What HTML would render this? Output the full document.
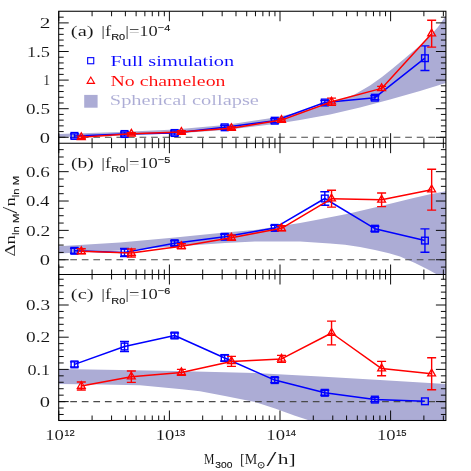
<!DOCTYPE html>
<html><head><meta charset="utf-8"><title>Mass function enhancement</title>
<style>html,body{margin:0;padding:0;background:#fff;}svg{display:block;}</style></head>
<body><svg width="471" height="471" viewBox="0 0 471 471">
<rect width="471" height="471" fill="#fff"/>
<defs>
<clipPath id="cpa"><rect x="58.7" y="11.25" width="387.2" height="131.95"/></clipPath>
<clipPath id="cpb"><rect x="58.7" y="143.2" width="387.2" height="131.3"/></clipPath>
<clipPath id="cpc"><rect x="58.7" y="274.5" width="387.2" height="146.0"/></clipPath>
</defs>
<polygon clip-path="url(#cpa)" fill="#acacd5" points="58.7,133.9 120.0,132.0 175.0,129.6 225.0,125.0 275.0,117.5 300.0,112.0 330.0,103.0 345.0,98.3 355.0,94.3 370.0,85.5 382.0,77.0 392.0,69.0 404.0,59.0 414.0,50.5 422.0,44.0 430.0,36.0 438.0,27.0 445.9,15.8 445.9,83.0 420.0,91.0 390.0,99.5 360.0,107.5 330.0,114.5 300.0,120.0 275.0,124.0 225.0,130.0 175.0,133.6 120.0,135.6 58.7,137.0"/>
<polygon clip-path="url(#cpb)" fill="#acacd5" points="58.7,246.2 120.0,242.5 175.0,237.5 225.0,232.5 255.0,230.0 300.0,223.0 316.0,220.0 348.0,213.8 380.0,206.3 411.5,198.5 430.0,194.3 445.9,191.3 445.9,274.5 437.0,274.5 428.0,269.5 415.0,263.1 400.0,256.4 389.0,253.2 375.0,250.0 360.0,247.0 345.0,244.8 330.0,243.5 300.0,241.6 255.0,241.5 225.0,243.0 175.0,246.5 120.0,250.5 58.7,253.4"/>
<polygon clip-path="url(#cpc)" fill="#acacd5" points="58.7,369.1 120.0,369.9 175.0,370.9 255.0,373.0 320.0,376.4 380.0,380.1 445.9,383.9 445.9,420.5 309.5,420.5 295.0,415.8 275.0,408.5 255.0,402.0 225.0,396.0 200.0,391.3 182.0,389.2 140.0,385.2 100.0,384.4 58.7,383.9"/>
<line x1="58.70" y1="137.30" x2="445.90" y2="137.30" stroke="#4a4a4a" stroke-width="1.05" stroke-dasharray="6.7 4.85"/>
<line x1="58.70" y1="259.75" x2="445.90" y2="259.75" stroke="#4a4a4a" stroke-width="1.05" stroke-dasharray="6.7 4.85"/>
<line x1="58.70" y1="401.60" x2="445.90" y2="401.60" stroke="#4a4a4a" stroke-width="1.05" stroke-dasharray="6.7 4.85"/>
<line x1="58.80" y1="11.25" x2="58.80" y2="21.25" stroke="#000" stroke-width="0.95" />
<line x1="92.09" y1="11.25" x2="92.09" y2="16.25" stroke="#000" stroke-width="0.95" />
<line x1="111.57" y1="11.25" x2="111.57" y2="16.25" stroke="#000" stroke-width="0.95" />
<line x1="125.39" y1="11.25" x2="125.39" y2="16.25" stroke="#000" stroke-width="0.95" />
<line x1="136.11" y1="11.25" x2="136.11" y2="16.25" stroke="#000" stroke-width="0.95" />
<line x1="144.86" y1="11.25" x2="144.86" y2="16.25" stroke="#000" stroke-width="0.95" />
<line x1="152.27" y1="11.25" x2="152.27" y2="16.25" stroke="#000" stroke-width="0.95" />
<line x1="158.68" y1="11.25" x2="158.68" y2="16.25" stroke="#000" stroke-width="0.95" />
<line x1="164.34" y1="11.25" x2="164.34" y2="16.25" stroke="#000" stroke-width="0.95" />
<line x1="169.40" y1="11.25" x2="169.40" y2="21.25" stroke="#000" stroke-width="0.95" />
<line x1="202.69" y1="11.25" x2="202.69" y2="16.25" stroke="#000" stroke-width="0.95" />
<line x1="222.17" y1="11.25" x2="222.17" y2="16.25" stroke="#000" stroke-width="0.95" />
<line x1="235.99" y1="11.25" x2="235.99" y2="16.25" stroke="#000" stroke-width="0.95" />
<line x1="246.71" y1="11.25" x2="246.71" y2="16.25" stroke="#000" stroke-width="0.95" />
<line x1="255.46" y1="11.25" x2="255.46" y2="16.25" stroke="#000" stroke-width="0.95" />
<line x1="262.87" y1="11.25" x2="262.87" y2="16.25" stroke="#000" stroke-width="0.95" />
<line x1="269.28" y1="11.25" x2="269.28" y2="16.25" stroke="#000" stroke-width="0.95" />
<line x1="274.94" y1="11.25" x2="274.94" y2="16.25" stroke="#000" stroke-width="0.95" />
<line x1="280.00" y1="11.25" x2="280.00" y2="21.25" stroke="#000" stroke-width="0.95" />
<line x1="313.29" y1="11.25" x2="313.29" y2="16.25" stroke="#000" stroke-width="0.95" />
<line x1="332.77" y1="11.25" x2="332.77" y2="16.25" stroke="#000" stroke-width="0.95" />
<line x1="346.59" y1="11.25" x2="346.59" y2="16.25" stroke="#000" stroke-width="0.95" />
<line x1="357.31" y1="11.25" x2="357.31" y2="16.25" stroke="#000" stroke-width="0.95" />
<line x1="366.06" y1="11.25" x2="366.06" y2="16.25" stroke="#000" stroke-width="0.95" />
<line x1="373.47" y1="11.25" x2="373.47" y2="16.25" stroke="#000" stroke-width="0.95" />
<line x1="379.88" y1="11.25" x2="379.88" y2="16.25" stroke="#000" stroke-width="0.95" />
<line x1="385.54" y1="11.25" x2="385.54" y2="16.25" stroke="#000" stroke-width="0.95" />
<line x1="390.60" y1="11.25" x2="390.60" y2="21.25" stroke="#000" stroke-width="0.95" />
<line x1="423.89" y1="11.25" x2="423.89" y2="16.25" stroke="#000" stroke-width="0.95" />
<line x1="443.37" y1="11.25" x2="443.37" y2="16.25" stroke="#000" stroke-width="0.95" />
<line x1="58.80" y1="133.20" x2="58.80" y2="153.20" stroke="#000" stroke-width="0.95" />
<line x1="92.09" y1="138.20" x2="92.09" y2="148.20" stroke="#000" stroke-width="0.95" />
<line x1="111.57" y1="138.20" x2="111.57" y2="148.20" stroke="#000" stroke-width="0.95" />
<line x1="125.39" y1="138.20" x2="125.39" y2="148.20" stroke="#000" stroke-width="0.95" />
<line x1="136.11" y1="138.20" x2="136.11" y2="148.20" stroke="#000" stroke-width="0.95" />
<line x1="144.86" y1="138.20" x2="144.86" y2="148.20" stroke="#000" stroke-width="0.95" />
<line x1="152.27" y1="138.20" x2="152.27" y2="148.20" stroke="#000" stroke-width="0.95" />
<line x1="158.68" y1="138.20" x2="158.68" y2="148.20" stroke="#000" stroke-width="0.95" />
<line x1="164.34" y1="138.20" x2="164.34" y2="148.20" stroke="#000" stroke-width="0.95" />
<line x1="169.40" y1="133.20" x2="169.40" y2="153.20" stroke="#000" stroke-width="0.95" />
<line x1="202.69" y1="138.20" x2="202.69" y2="148.20" stroke="#000" stroke-width="0.95" />
<line x1="222.17" y1="138.20" x2="222.17" y2="148.20" stroke="#000" stroke-width="0.95" />
<line x1="235.99" y1="138.20" x2="235.99" y2="148.20" stroke="#000" stroke-width="0.95" />
<line x1="246.71" y1="138.20" x2="246.71" y2="148.20" stroke="#000" stroke-width="0.95" />
<line x1="255.46" y1="138.20" x2="255.46" y2="148.20" stroke="#000" stroke-width="0.95" />
<line x1="262.87" y1="138.20" x2="262.87" y2="148.20" stroke="#000" stroke-width="0.95" />
<line x1="269.28" y1="138.20" x2="269.28" y2="148.20" stroke="#000" stroke-width="0.95" />
<line x1="274.94" y1="138.20" x2="274.94" y2="148.20" stroke="#000" stroke-width="0.95" />
<line x1="280.00" y1="133.20" x2="280.00" y2="153.20" stroke="#000" stroke-width="0.95" />
<line x1="313.29" y1="138.20" x2="313.29" y2="148.20" stroke="#000" stroke-width="0.95" />
<line x1="332.77" y1="138.20" x2="332.77" y2="148.20" stroke="#000" stroke-width="0.95" />
<line x1="346.59" y1="138.20" x2="346.59" y2="148.20" stroke="#000" stroke-width="0.95" />
<line x1="357.31" y1="138.20" x2="357.31" y2="148.20" stroke="#000" stroke-width="0.95" />
<line x1="366.06" y1="138.20" x2="366.06" y2="148.20" stroke="#000" stroke-width="0.95" />
<line x1="373.47" y1="138.20" x2="373.47" y2="148.20" stroke="#000" stroke-width="0.95" />
<line x1="379.88" y1="138.20" x2="379.88" y2="148.20" stroke="#000" stroke-width="0.95" />
<line x1="385.54" y1="138.20" x2="385.54" y2="148.20" stroke="#000" stroke-width="0.95" />
<line x1="390.60" y1="133.20" x2="390.60" y2="153.20" stroke="#000" stroke-width="0.95" />
<line x1="423.89" y1="138.20" x2="423.89" y2="148.20" stroke="#000" stroke-width="0.95" />
<line x1="443.37" y1="138.20" x2="443.37" y2="148.20" stroke="#000" stroke-width="0.95" />
<line x1="58.80" y1="264.50" x2="58.80" y2="284.50" stroke="#000" stroke-width="0.95" />
<line x1="92.09" y1="269.50" x2="92.09" y2="279.50" stroke="#000" stroke-width="0.95" />
<line x1="111.57" y1="269.50" x2="111.57" y2="279.50" stroke="#000" stroke-width="0.95" />
<line x1="125.39" y1="269.50" x2="125.39" y2="279.50" stroke="#000" stroke-width="0.95" />
<line x1="136.11" y1="269.50" x2="136.11" y2="279.50" stroke="#000" stroke-width="0.95" />
<line x1="144.86" y1="269.50" x2="144.86" y2="279.50" stroke="#000" stroke-width="0.95" />
<line x1="152.27" y1="269.50" x2="152.27" y2="279.50" stroke="#000" stroke-width="0.95" />
<line x1="158.68" y1="269.50" x2="158.68" y2="279.50" stroke="#000" stroke-width="0.95" />
<line x1="164.34" y1="269.50" x2="164.34" y2="279.50" stroke="#000" stroke-width="0.95" />
<line x1="169.40" y1="264.50" x2="169.40" y2="284.50" stroke="#000" stroke-width="0.95" />
<line x1="202.69" y1="269.50" x2="202.69" y2="279.50" stroke="#000" stroke-width="0.95" />
<line x1="222.17" y1="269.50" x2="222.17" y2="279.50" stroke="#000" stroke-width="0.95" />
<line x1="235.99" y1="269.50" x2="235.99" y2="279.50" stroke="#000" stroke-width="0.95" />
<line x1="246.71" y1="269.50" x2="246.71" y2="279.50" stroke="#000" stroke-width="0.95" />
<line x1="255.46" y1="269.50" x2="255.46" y2="279.50" stroke="#000" stroke-width="0.95" />
<line x1="262.87" y1="269.50" x2="262.87" y2="279.50" stroke="#000" stroke-width="0.95" />
<line x1="269.28" y1="269.50" x2="269.28" y2="279.50" stroke="#000" stroke-width="0.95" />
<line x1="274.94" y1="269.50" x2="274.94" y2="279.50" stroke="#000" stroke-width="0.95" />
<line x1="280.00" y1="264.50" x2="280.00" y2="284.50" stroke="#000" stroke-width="0.95" />
<line x1="313.29" y1="269.50" x2="313.29" y2="279.50" stroke="#000" stroke-width="0.95" />
<line x1="332.77" y1="269.50" x2="332.77" y2="279.50" stroke="#000" stroke-width="0.95" />
<line x1="346.59" y1="269.50" x2="346.59" y2="279.50" stroke="#000" stroke-width="0.95" />
<line x1="357.31" y1="269.50" x2="357.31" y2="279.50" stroke="#000" stroke-width="0.95" />
<line x1="366.06" y1="269.50" x2="366.06" y2="279.50" stroke="#000" stroke-width="0.95" />
<line x1="373.47" y1="269.50" x2="373.47" y2="279.50" stroke="#000" stroke-width="0.95" />
<line x1="379.88" y1="269.50" x2="379.88" y2="279.50" stroke="#000" stroke-width="0.95" />
<line x1="385.54" y1="269.50" x2="385.54" y2="279.50" stroke="#000" stroke-width="0.95" />
<line x1="390.60" y1="264.50" x2="390.60" y2="284.50" stroke="#000" stroke-width="0.95" />
<line x1="423.89" y1="269.50" x2="423.89" y2="279.50" stroke="#000" stroke-width="0.95" />
<line x1="443.37" y1="269.50" x2="443.37" y2="279.50" stroke="#000" stroke-width="0.95" />
<line x1="58.80" y1="410.50" x2="58.80" y2="420.50" stroke="#000" stroke-width="0.95" />
<line x1="92.09" y1="415.50" x2="92.09" y2="420.50" stroke="#000" stroke-width="0.95" />
<line x1="111.57" y1="415.50" x2="111.57" y2="420.50" stroke="#000" stroke-width="0.95" />
<line x1="125.39" y1="415.50" x2="125.39" y2="420.50" stroke="#000" stroke-width="0.95" />
<line x1="136.11" y1="415.50" x2="136.11" y2="420.50" stroke="#000" stroke-width="0.95" />
<line x1="144.86" y1="415.50" x2="144.86" y2="420.50" stroke="#000" stroke-width="0.95" />
<line x1="152.27" y1="415.50" x2="152.27" y2="420.50" stroke="#000" stroke-width="0.95" />
<line x1="158.68" y1="415.50" x2="158.68" y2="420.50" stroke="#000" stroke-width="0.95" />
<line x1="164.34" y1="415.50" x2="164.34" y2="420.50" stroke="#000" stroke-width="0.95" />
<line x1="169.40" y1="410.50" x2="169.40" y2="420.50" stroke="#000" stroke-width="0.95" />
<line x1="202.69" y1="415.50" x2="202.69" y2="420.50" stroke="#000" stroke-width="0.95" />
<line x1="222.17" y1="415.50" x2="222.17" y2="420.50" stroke="#000" stroke-width="0.95" />
<line x1="235.99" y1="415.50" x2="235.99" y2="420.50" stroke="#000" stroke-width="0.95" />
<line x1="246.71" y1="415.50" x2="246.71" y2="420.50" stroke="#000" stroke-width="0.95" />
<line x1="255.46" y1="415.50" x2="255.46" y2="420.50" stroke="#000" stroke-width="0.95" />
<line x1="262.87" y1="415.50" x2="262.87" y2="420.50" stroke="#000" stroke-width="0.95" />
<line x1="269.28" y1="415.50" x2="269.28" y2="420.50" stroke="#000" stroke-width="0.95" />
<line x1="274.94" y1="415.50" x2="274.94" y2="420.50" stroke="#000" stroke-width="0.95" />
<line x1="280.00" y1="410.50" x2="280.00" y2="420.50" stroke="#000" stroke-width="0.95" />
<line x1="313.29" y1="415.50" x2="313.29" y2="420.50" stroke="#000" stroke-width="0.95" />
<line x1="332.77" y1="415.50" x2="332.77" y2="420.50" stroke="#000" stroke-width="0.95" />
<line x1="346.59" y1="415.50" x2="346.59" y2="420.50" stroke="#000" stroke-width="0.95" />
<line x1="357.31" y1="415.50" x2="357.31" y2="420.50" stroke="#000" stroke-width="0.95" />
<line x1="366.06" y1="415.50" x2="366.06" y2="420.50" stroke="#000" stroke-width="0.95" />
<line x1="373.47" y1="415.50" x2="373.47" y2="420.50" stroke="#000" stroke-width="0.95" />
<line x1="379.88" y1="415.50" x2="379.88" y2="420.50" stroke="#000" stroke-width="0.95" />
<line x1="385.54" y1="415.50" x2="385.54" y2="420.50" stroke="#000" stroke-width="0.95" />
<line x1="390.60" y1="410.50" x2="390.60" y2="420.50" stroke="#000" stroke-width="0.95" />
<line x1="423.89" y1="415.50" x2="423.89" y2="420.50" stroke="#000" stroke-width="0.95" />
<line x1="443.37" y1="415.50" x2="443.37" y2="420.50" stroke="#000" stroke-width="0.95" />
<line x1="58.70" y1="137.30" x2="68.70" y2="137.30" stroke="#000" stroke-width="0.95" />
<line x1="435.90" y1="137.30" x2="445.90" y2="137.30" stroke="#000" stroke-width="0.95" />
<line x1="58.70" y1="131.58" x2="63.70" y2="131.58" stroke="#000" stroke-width="0.95" />
<line x1="440.90" y1="131.58" x2="445.90" y2="131.58" stroke="#000" stroke-width="0.95" />
<line x1="58.70" y1="125.86" x2="63.70" y2="125.86" stroke="#000" stroke-width="0.95" />
<line x1="440.90" y1="125.86" x2="445.90" y2="125.86" stroke="#000" stroke-width="0.95" />
<line x1="58.70" y1="120.14" x2="63.70" y2="120.14" stroke="#000" stroke-width="0.95" />
<line x1="440.90" y1="120.14" x2="445.90" y2="120.14" stroke="#000" stroke-width="0.95" />
<line x1="58.70" y1="114.42" x2="63.70" y2="114.42" stroke="#000" stroke-width="0.95" />
<line x1="440.90" y1="114.42" x2="445.90" y2="114.42" stroke="#000" stroke-width="0.95" />
<line x1="58.70" y1="108.70" x2="68.70" y2="108.70" stroke="#000" stroke-width="0.95" />
<line x1="435.90" y1="108.70" x2="445.90" y2="108.70" stroke="#000" stroke-width="0.95" />
<line x1="58.70" y1="102.98" x2="63.70" y2="102.98" stroke="#000" stroke-width="0.95" />
<line x1="440.90" y1="102.98" x2="445.90" y2="102.98" stroke="#000" stroke-width="0.95" />
<line x1="58.70" y1="97.26" x2="63.70" y2="97.26" stroke="#000" stroke-width="0.95" />
<line x1="440.90" y1="97.26" x2="445.90" y2="97.26" stroke="#000" stroke-width="0.95" />
<line x1="58.70" y1="91.54" x2="63.70" y2="91.54" stroke="#000" stroke-width="0.95" />
<line x1="440.90" y1="91.54" x2="445.90" y2="91.54" stroke="#000" stroke-width="0.95" />
<line x1="58.70" y1="85.82" x2="63.70" y2="85.82" stroke="#000" stroke-width="0.95" />
<line x1="440.90" y1="85.82" x2="445.90" y2="85.82" stroke="#000" stroke-width="0.95" />
<line x1="58.70" y1="80.10" x2="68.70" y2="80.10" stroke="#000" stroke-width="0.95" />
<line x1="435.90" y1="80.10" x2="445.90" y2="80.10" stroke="#000" stroke-width="0.95" />
<line x1="58.70" y1="74.38" x2="63.70" y2="74.38" stroke="#000" stroke-width="0.95" />
<line x1="440.90" y1="74.38" x2="445.90" y2="74.38" stroke="#000" stroke-width="0.95" />
<line x1="58.70" y1="68.66" x2="63.70" y2="68.66" stroke="#000" stroke-width="0.95" />
<line x1="440.90" y1="68.66" x2="445.90" y2="68.66" stroke="#000" stroke-width="0.95" />
<line x1="58.70" y1="62.94" x2="63.70" y2="62.94" stroke="#000" stroke-width="0.95" />
<line x1="440.90" y1="62.94" x2="445.90" y2="62.94" stroke="#000" stroke-width="0.95" />
<line x1="58.70" y1="57.22" x2="63.70" y2="57.22" stroke="#000" stroke-width="0.95" />
<line x1="440.90" y1="57.22" x2="445.90" y2="57.22" stroke="#000" stroke-width="0.95" />
<line x1="58.70" y1="51.50" x2="68.70" y2="51.50" stroke="#000" stroke-width="0.95" />
<line x1="435.90" y1="51.50" x2="445.90" y2="51.50" stroke="#000" stroke-width="0.95" />
<line x1="58.70" y1="45.78" x2="63.70" y2="45.78" stroke="#000" stroke-width="0.95" />
<line x1="440.90" y1="45.78" x2="445.90" y2="45.78" stroke="#000" stroke-width="0.95" />
<line x1="58.70" y1="40.06" x2="63.70" y2="40.06" stroke="#000" stroke-width="0.95" />
<line x1="440.90" y1="40.06" x2="445.90" y2="40.06" stroke="#000" stroke-width="0.95" />
<line x1="58.70" y1="34.34" x2="63.70" y2="34.34" stroke="#000" stroke-width="0.95" />
<line x1="440.90" y1="34.34" x2="445.90" y2="34.34" stroke="#000" stroke-width="0.95" />
<line x1="58.70" y1="28.62" x2="63.70" y2="28.62" stroke="#000" stroke-width="0.95" />
<line x1="440.90" y1="28.62" x2="445.90" y2="28.62" stroke="#000" stroke-width="0.95" />
<line x1="58.70" y1="22.90" x2="68.70" y2="22.90" stroke="#000" stroke-width="0.95" />
<line x1="435.90" y1="22.90" x2="445.90" y2="22.90" stroke="#000" stroke-width="0.95" />
<line x1="58.70" y1="17.18" x2="63.70" y2="17.18" stroke="#000" stroke-width="0.95" />
<line x1="440.90" y1="17.18" x2="445.90" y2="17.18" stroke="#000" stroke-width="0.95" />
<line x1="58.70" y1="267.09" x2="63.70" y2="267.09" stroke="#000" stroke-width="0.95" />
<line x1="440.90" y1="267.09" x2="445.90" y2="267.09" stroke="#000" stroke-width="0.95" />
<line x1="58.70" y1="259.75" x2="68.70" y2="259.75" stroke="#000" stroke-width="0.95" />
<line x1="435.90" y1="259.75" x2="445.90" y2="259.75" stroke="#000" stroke-width="0.95" />
<line x1="58.70" y1="252.41" x2="63.70" y2="252.41" stroke="#000" stroke-width="0.95" />
<line x1="440.90" y1="252.41" x2="445.90" y2="252.41" stroke="#000" stroke-width="0.95" />
<line x1="58.70" y1="245.07" x2="63.70" y2="245.07" stroke="#000" stroke-width="0.95" />
<line x1="440.90" y1="245.07" x2="445.90" y2="245.07" stroke="#000" stroke-width="0.95" />
<line x1="58.70" y1="237.73" x2="63.70" y2="237.73" stroke="#000" stroke-width="0.95" />
<line x1="440.90" y1="237.73" x2="445.90" y2="237.73" stroke="#000" stroke-width="0.95" />
<line x1="58.70" y1="230.39" x2="68.70" y2="230.39" stroke="#000" stroke-width="0.95" />
<line x1="435.90" y1="230.39" x2="445.90" y2="230.39" stroke="#000" stroke-width="0.95" />
<line x1="58.70" y1="223.05" x2="63.70" y2="223.05" stroke="#000" stroke-width="0.95" />
<line x1="440.90" y1="223.05" x2="445.90" y2="223.05" stroke="#000" stroke-width="0.95" />
<line x1="58.70" y1="215.71" x2="63.70" y2="215.71" stroke="#000" stroke-width="0.95" />
<line x1="440.90" y1="215.71" x2="445.90" y2="215.71" stroke="#000" stroke-width="0.95" />
<line x1="58.70" y1="208.37" x2="63.70" y2="208.37" stroke="#000" stroke-width="0.95" />
<line x1="440.90" y1="208.37" x2="445.90" y2="208.37" stroke="#000" stroke-width="0.95" />
<line x1="58.70" y1="201.03" x2="68.70" y2="201.03" stroke="#000" stroke-width="0.95" />
<line x1="435.90" y1="201.03" x2="445.90" y2="201.03" stroke="#000" stroke-width="0.95" />
<line x1="58.70" y1="193.69" x2="63.70" y2="193.69" stroke="#000" stroke-width="0.95" />
<line x1="440.90" y1="193.69" x2="445.90" y2="193.69" stroke="#000" stroke-width="0.95" />
<line x1="58.70" y1="186.35" x2="63.70" y2="186.35" stroke="#000" stroke-width="0.95" />
<line x1="440.90" y1="186.35" x2="445.90" y2="186.35" stroke="#000" stroke-width="0.95" />
<line x1="58.70" y1="179.01" x2="63.70" y2="179.01" stroke="#000" stroke-width="0.95" />
<line x1="440.90" y1="179.01" x2="445.90" y2="179.01" stroke="#000" stroke-width="0.95" />
<line x1="58.70" y1="171.67" x2="68.70" y2="171.67" stroke="#000" stroke-width="0.95" />
<line x1="435.90" y1="171.67" x2="445.90" y2="171.67" stroke="#000" stroke-width="0.95" />
<line x1="58.70" y1="164.33" x2="63.70" y2="164.33" stroke="#000" stroke-width="0.95" />
<line x1="440.90" y1="164.33" x2="445.90" y2="164.33" stroke="#000" stroke-width="0.95" />
<line x1="58.70" y1="156.99" x2="63.70" y2="156.99" stroke="#000" stroke-width="0.95" />
<line x1="440.90" y1="156.99" x2="445.90" y2="156.99" stroke="#000" stroke-width="0.95" />
<line x1="58.70" y1="149.65" x2="63.70" y2="149.65" stroke="#000" stroke-width="0.95" />
<line x1="440.90" y1="149.65" x2="445.90" y2="149.65" stroke="#000" stroke-width="0.95" />
<line x1="58.70" y1="414.48" x2="63.70" y2="414.48" stroke="#000" stroke-width="0.95" />
<line x1="440.90" y1="414.48" x2="445.90" y2="414.48" stroke="#000" stroke-width="0.95" />
<line x1="58.70" y1="408.04" x2="63.70" y2="408.04" stroke="#000" stroke-width="0.95" />
<line x1="440.90" y1="408.04" x2="445.90" y2="408.04" stroke="#000" stroke-width="0.95" />
<line x1="58.70" y1="401.60" x2="68.70" y2="401.60" stroke="#000" stroke-width="0.95" />
<line x1="435.90" y1="401.60" x2="445.90" y2="401.60" stroke="#000" stroke-width="0.95" />
<line x1="58.70" y1="395.16" x2="63.70" y2="395.16" stroke="#000" stroke-width="0.95" />
<line x1="440.90" y1="395.16" x2="445.90" y2="395.16" stroke="#000" stroke-width="0.95" />
<line x1="58.70" y1="388.72" x2="63.70" y2="388.72" stroke="#000" stroke-width="0.95" />
<line x1="440.90" y1="388.72" x2="445.90" y2="388.72" stroke="#000" stroke-width="0.95" />
<line x1="58.70" y1="382.28" x2="63.70" y2="382.28" stroke="#000" stroke-width="0.95" />
<line x1="440.90" y1="382.28" x2="445.90" y2="382.28" stroke="#000" stroke-width="0.95" />
<line x1="58.70" y1="375.84" x2="63.70" y2="375.84" stroke="#000" stroke-width="0.95" />
<line x1="440.90" y1="375.84" x2="445.90" y2="375.84" stroke="#000" stroke-width="0.95" />
<line x1="58.70" y1="369.40" x2="68.70" y2="369.40" stroke="#000" stroke-width="0.95" />
<line x1="435.90" y1="369.40" x2="445.90" y2="369.40" stroke="#000" stroke-width="0.95" />
<line x1="58.70" y1="362.96" x2="63.70" y2="362.96" stroke="#000" stroke-width="0.95" />
<line x1="440.90" y1="362.96" x2="445.90" y2="362.96" stroke="#000" stroke-width="0.95" />
<line x1="58.70" y1="356.52" x2="63.70" y2="356.52" stroke="#000" stroke-width="0.95" />
<line x1="440.90" y1="356.52" x2="445.90" y2="356.52" stroke="#000" stroke-width="0.95" />
<line x1="58.70" y1="350.08" x2="63.70" y2="350.08" stroke="#000" stroke-width="0.95" />
<line x1="440.90" y1="350.08" x2="445.90" y2="350.08" stroke="#000" stroke-width="0.95" />
<line x1="58.70" y1="343.64" x2="63.70" y2="343.64" stroke="#000" stroke-width="0.95" />
<line x1="440.90" y1="343.64" x2="445.90" y2="343.64" stroke="#000" stroke-width="0.95" />
<line x1="58.70" y1="337.20" x2="68.70" y2="337.20" stroke="#000" stroke-width="0.95" />
<line x1="435.90" y1="337.20" x2="445.90" y2="337.20" stroke="#000" stroke-width="0.95" />
<line x1="58.70" y1="330.76" x2="63.70" y2="330.76" stroke="#000" stroke-width="0.95" />
<line x1="440.90" y1="330.76" x2="445.90" y2="330.76" stroke="#000" stroke-width="0.95" />
<line x1="58.70" y1="324.32" x2="63.70" y2="324.32" stroke="#000" stroke-width="0.95" />
<line x1="440.90" y1="324.32" x2="445.90" y2="324.32" stroke="#000" stroke-width="0.95" />
<line x1="58.70" y1="317.88" x2="63.70" y2="317.88" stroke="#000" stroke-width="0.95" />
<line x1="440.90" y1="317.88" x2="445.90" y2="317.88" stroke="#000" stroke-width="0.95" />
<line x1="58.70" y1="311.44" x2="63.70" y2="311.44" stroke="#000" stroke-width="0.95" />
<line x1="440.90" y1="311.44" x2="445.90" y2="311.44" stroke="#000" stroke-width="0.95" />
<line x1="58.70" y1="305.00" x2="68.70" y2="305.00" stroke="#000" stroke-width="0.95" />
<line x1="435.90" y1="305.00" x2="445.90" y2="305.00" stroke="#000" stroke-width="0.95" />
<line x1="58.70" y1="298.56" x2="63.70" y2="298.56" stroke="#000" stroke-width="0.95" />
<line x1="440.90" y1="298.56" x2="445.90" y2="298.56" stroke="#000" stroke-width="0.95" />
<line x1="58.70" y1="292.12" x2="63.70" y2="292.12" stroke="#000" stroke-width="0.95" />
<line x1="440.90" y1="292.12" x2="445.90" y2="292.12" stroke="#000" stroke-width="0.95" />
<line x1="58.70" y1="285.68" x2="63.70" y2="285.68" stroke="#000" stroke-width="0.95" />
<line x1="440.90" y1="285.68" x2="445.90" y2="285.68" stroke="#000" stroke-width="0.95" />
<line x1="58.70" y1="279.24" x2="63.70" y2="279.24" stroke="#000" stroke-width="0.95" />
<line x1="440.90" y1="279.24" x2="445.90" y2="279.24" stroke="#000" stroke-width="0.95" />
<rect x="58.7" y="11.25" width="387.2" height="409.25" fill="none" stroke="#000" stroke-width="1.05"/>
<line x1="58.70" y1="143.20" x2="445.90" y2="143.20" stroke="#000" stroke-width="1.05" />
<line x1="58.70" y1="274.50" x2="445.90" y2="274.50" stroke="#000" stroke-width="1.05" />
<g clip-path="url(#cpa)">
<polyline fill="none" stroke="#0000ff" stroke-width="1.5" stroke-linejoin="round" points="74.5,135.9 124.5,134.0 174.6,133.0 224.7,127.3 274.7,120.7 324.8,102.5 374.9,97.7 424.9,58.2"/>
<line x1="74.45" y1="133.90" x2="74.45" y2="137.90" stroke="#0000ff" stroke-width="1.4" />
<line x1="69.95" y1="133.90" x2="78.95" y2="133.90" stroke="#0000ff" stroke-width="1.4" />
<line x1="69.95" y1="137.90" x2="78.95" y2="137.90" stroke="#0000ff" stroke-width="1.4" />
<rect x="71.10" y="132.55" width="6.7" height="6.7" fill="none" stroke="#0000ff" stroke-width="1.4"/>
<line x1="124.52" y1="132.00" x2="124.52" y2="136.00" stroke="#0000ff" stroke-width="1.4" />
<line x1="120.02" y1="132.00" x2="129.02" y2="132.00" stroke="#0000ff" stroke-width="1.4" />
<line x1="120.02" y1="136.00" x2="129.02" y2="136.00" stroke="#0000ff" stroke-width="1.4" />
<rect x="121.17" y="130.65" width="6.7" height="6.7" fill="none" stroke="#0000ff" stroke-width="1.4"/>
<line x1="174.59" y1="131.00" x2="174.59" y2="135.00" stroke="#0000ff" stroke-width="1.4" />
<line x1="170.09" y1="131.00" x2="179.09" y2="131.00" stroke="#0000ff" stroke-width="1.4" />
<line x1="170.09" y1="135.00" x2="179.09" y2="135.00" stroke="#0000ff" stroke-width="1.4" />
<rect x="171.24" y="129.65" width="6.7" height="6.7" fill="none" stroke="#0000ff" stroke-width="1.4"/>
<line x1="224.66" y1="125.30" x2="224.66" y2="129.30" stroke="#0000ff" stroke-width="1.4" />
<line x1="220.16" y1="125.30" x2="229.16" y2="125.30" stroke="#0000ff" stroke-width="1.4" />
<line x1="220.16" y1="129.30" x2="229.16" y2="129.30" stroke="#0000ff" stroke-width="1.4" />
<rect x="221.31" y="123.95" width="6.7" height="6.7" fill="none" stroke="#0000ff" stroke-width="1.4"/>
<line x1="274.73" y1="118.70" x2="274.73" y2="122.70" stroke="#0000ff" stroke-width="1.4" />
<line x1="270.23" y1="118.70" x2="279.23" y2="118.70" stroke="#0000ff" stroke-width="1.4" />
<line x1="270.23" y1="122.70" x2="279.23" y2="122.70" stroke="#0000ff" stroke-width="1.4" />
<rect x="271.38" y="117.35" width="6.7" height="6.7" fill="none" stroke="#0000ff" stroke-width="1.4"/>
<line x1="324.80" y1="100.50" x2="324.80" y2="104.50" stroke="#0000ff" stroke-width="1.4" />
<line x1="320.30" y1="100.50" x2="329.30" y2="100.50" stroke="#0000ff" stroke-width="1.4" />
<line x1="320.30" y1="104.50" x2="329.30" y2="104.50" stroke="#0000ff" stroke-width="1.4" />
<rect x="321.45" y="99.15" width="6.7" height="6.7" fill="none" stroke="#0000ff" stroke-width="1.4"/>
<line x1="374.87" y1="95.70" x2="374.87" y2="99.70" stroke="#0000ff" stroke-width="1.4" />
<line x1="370.37" y1="95.70" x2="379.37" y2="95.70" stroke="#0000ff" stroke-width="1.4" />
<line x1="370.37" y1="99.70" x2="379.37" y2="99.70" stroke="#0000ff" stroke-width="1.4" />
<rect x="371.52" y="94.35" width="6.7" height="6.7" fill="none" stroke="#0000ff" stroke-width="1.4"/>
<line x1="424.94" y1="45.90" x2="424.94" y2="70.50" stroke="#0000ff" stroke-width="1.4" />
<line x1="420.44" y1="45.90" x2="429.44" y2="45.90" stroke="#0000ff" stroke-width="1.4" />
<line x1="420.44" y1="70.50" x2="429.44" y2="70.50" stroke="#0000ff" stroke-width="1.4" />
<rect x="421.59" y="54.85" width="6.7" height="6.7" fill="none" stroke="#0000ff" stroke-width="1.4"/>
<polyline fill="none" stroke="#ff0000" stroke-width="1.5" stroke-linejoin="round" points="81.3,137.3 131.3,133.8 181.4,132.0 231.4,128.2 281.5,120.1 331.6,101.7 381.6,88.4 431.6,33.7"/>
<line x1="81.30" y1="136.10" x2="81.30" y2="138.50" stroke="#ff0000" stroke-width="1.4" />
<line x1="76.80" y1="136.10" x2="85.80" y2="136.10" stroke="#ff0000" stroke-width="1.4" />
<line x1="76.80" y1="138.50" x2="85.80" y2="138.50" stroke="#ff0000" stroke-width="1.4" />
<polygon points="81.30,132.80 77.38,139.55 85.22,139.55" fill="none" stroke="#ff0000" stroke-width="1.3" stroke-linejoin="miter"/>
<line x1="131.35" y1="132.60" x2="131.35" y2="135.00" stroke="#ff0000" stroke-width="1.4" />
<line x1="126.85" y1="132.60" x2="135.85" y2="132.60" stroke="#ff0000" stroke-width="1.4" />
<line x1="126.85" y1="135.00" x2="135.85" y2="135.00" stroke="#ff0000" stroke-width="1.4" />
<polygon points="131.35,129.30 127.43,136.05 135.26,136.05" fill="none" stroke="#ff0000" stroke-width="1.3" stroke-linejoin="miter"/>
<line x1="181.40" y1="130.80" x2="181.40" y2="133.20" stroke="#ff0000" stroke-width="1.4" />
<line x1="176.90" y1="130.80" x2="185.90" y2="130.80" stroke="#ff0000" stroke-width="1.4" />
<line x1="176.90" y1="133.20" x2="185.90" y2="133.20" stroke="#ff0000" stroke-width="1.4" />
<polygon points="181.40,127.50 177.48,134.25 185.31,134.25" fill="none" stroke="#ff0000" stroke-width="1.3" stroke-linejoin="miter"/>
<line x1="231.45" y1="127.00" x2="231.45" y2="129.40" stroke="#ff0000" stroke-width="1.4" />
<line x1="226.95" y1="127.00" x2="235.95" y2="127.00" stroke="#ff0000" stroke-width="1.4" />
<line x1="226.95" y1="129.40" x2="235.95" y2="129.40" stroke="#ff0000" stroke-width="1.4" />
<polygon points="231.45,123.70 227.53,130.45 235.36,130.45" fill="none" stroke="#ff0000" stroke-width="1.3" stroke-linejoin="miter"/>
<line x1="281.50" y1="118.90" x2="281.50" y2="121.30" stroke="#ff0000" stroke-width="1.4" />
<line x1="277.00" y1="118.90" x2="286.00" y2="118.90" stroke="#ff0000" stroke-width="1.4" />
<line x1="277.00" y1="121.30" x2="286.00" y2="121.30" stroke="#ff0000" stroke-width="1.4" />
<polygon points="281.50,115.60 277.58,122.35 285.42,122.35" fill="none" stroke="#ff0000" stroke-width="1.3" stroke-linejoin="miter"/>
<line x1="331.55" y1="98.10" x2="331.55" y2="105.30" stroke="#ff0000" stroke-width="1.4" />
<line x1="327.05" y1="98.10" x2="336.05" y2="98.10" stroke="#ff0000" stroke-width="1.4" />
<line x1="327.05" y1="105.30" x2="336.05" y2="105.30" stroke="#ff0000" stroke-width="1.4" />
<polygon points="331.55,97.20 327.63,103.95 335.47,103.95" fill="none" stroke="#ff0000" stroke-width="1.3" stroke-linejoin="miter"/>
<line x1="381.60" y1="86.40" x2="381.60" y2="90.40" stroke="#ff0000" stroke-width="1.4" />
<line x1="377.10" y1="86.40" x2="386.10" y2="86.40" stroke="#ff0000" stroke-width="1.4" />
<line x1="377.10" y1="90.40" x2="386.10" y2="90.40" stroke="#ff0000" stroke-width="1.4" />
<polygon points="381.60,83.90 377.68,90.65 385.51,90.65" fill="none" stroke="#ff0000" stroke-width="1.3" stroke-linejoin="miter"/>
<line x1="431.65" y1="20.30" x2="431.65" y2="47.10" stroke="#ff0000" stroke-width="1.4" />
<line x1="427.15" y1="20.30" x2="436.15" y2="20.30" stroke="#ff0000" stroke-width="1.4" />
<line x1="427.15" y1="47.10" x2="436.15" y2="47.10" stroke="#ff0000" stroke-width="1.4" />
<polygon points="431.65,29.20 427.73,35.95 435.56,35.95" fill="none" stroke="#ff0000" stroke-width="1.3" stroke-linejoin="miter"/>
</g>
<g clip-path="url(#cpb)">
<polyline fill="none" stroke="#0000ff" stroke-width="1.5" stroke-linejoin="round" points="74.5,250.8 124.5,252.5 174.6,243.2 224.7,236.8 274.7,227.9 324.8,198.5 374.9,228.7 424.9,240.6"/>
<line x1="74.45" y1="248.30" x2="74.45" y2="253.30" stroke="#0000ff" stroke-width="1.4" />
<line x1="69.95" y1="248.30" x2="78.95" y2="248.30" stroke="#0000ff" stroke-width="1.4" />
<line x1="69.95" y1="253.30" x2="78.95" y2="253.30" stroke="#0000ff" stroke-width="1.4" />
<rect x="71.10" y="247.45" width="6.7" height="6.7" fill="none" stroke="#0000ff" stroke-width="1.4"/>
<line x1="124.52" y1="248.50" x2="124.52" y2="256.50" stroke="#0000ff" stroke-width="1.4" />
<line x1="120.02" y1="248.50" x2="129.02" y2="248.50" stroke="#0000ff" stroke-width="1.4" />
<line x1="120.02" y1="256.50" x2="129.02" y2="256.50" stroke="#0000ff" stroke-width="1.4" />
<rect x="121.17" y="249.15" width="6.7" height="6.7" fill="none" stroke="#0000ff" stroke-width="1.4"/>
<line x1="174.59" y1="240.70" x2="174.59" y2="245.70" stroke="#0000ff" stroke-width="1.4" />
<line x1="170.09" y1="240.70" x2="179.09" y2="240.70" stroke="#0000ff" stroke-width="1.4" />
<line x1="170.09" y1="245.70" x2="179.09" y2="245.70" stroke="#0000ff" stroke-width="1.4" />
<rect x="171.24" y="239.85" width="6.7" height="6.7" fill="none" stroke="#0000ff" stroke-width="1.4"/>
<line x1="224.66" y1="234.30" x2="224.66" y2="239.30" stroke="#0000ff" stroke-width="1.4" />
<line x1="220.16" y1="234.30" x2="229.16" y2="234.30" stroke="#0000ff" stroke-width="1.4" />
<line x1="220.16" y1="239.30" x2="229.16" y2="239.30" stroke="#0000ff" stroke-width="1.4" />
<rect x="221.31" y="233.45" width="6.7" height="6.7" fill="none" stroke="#0000ff" stroke-width="1.4"/>
<line x1="274.73" y1="225.40" x2="274.73" y2="230.40" stroke="#0000ff" stroke-width="1.4" />
<line x1="270.23" y1="225.40" x2="279.23" y2="225.40" stroke="#0000ff" stroke-width="1.4" />
<line x1="270.23" y1="230.40" x2="279.23" y2="230.40" stroke="#0000ff" stroke-width="1.4" />
<rect x="271.38" y="224.55" width="6.7" height="6.7" fill="none" stroke="#0000ff" stroke-width="1.4"/>
<line x1="324.80" y1="191.70" x2="324.80" y2="205.30" stroke="#0000ff" stroke-width="1.4" />
<line x1="320.30" y1="191.70" x2="329.30" y2="191.70" stroke="#0000ff" stroke-width="1.4" />
<line x1="320.30" y1="205.30" x2="329.30" y2="205.30" stroke="#0000ff" stroke-width="1.4" />
<rect x="321.45" y="195.15" width="6.7" height="6.7" fill="none" stroke="#0000ff" stroke-width="1.4"/>
<line x1="374.87" y1="226.20" x2="374.87" y2="231.20" stroke="#0000ff" stroke-width="1.4" />
<line x1="370.37" y1="226.20" x2="379.37" y2="226.20" stroke="#0000ff" stroke-width="1.4" />
<line x1="370.37" y1="231.20" x2="379.37" y2="231.20" stroke="#0000ff" stroke-width="1.4" />
<rect x="371.52" y="225.35" width="6.7" height="6.7" fill="none" stroke="#0000ff" stroke-width="1.4"/>
<line x1="424.94" y1="228.90" x2="424.94" y2="252.30" stroke="#0000ff" stroke-width="1.4" />
<line x1="420.44" y1="228.90" x2="429.44" y2="228.90" stroke="#0000ff" stroke-width="1.4" />
<line x1="420.44" y1="252.30" x2="429.44" y2="252.30" stroke="#0000ff" stroke-width="1.4" />
<rect x="421.59" y="237.25" width="6.7" height="6.7" fill="none" stroke="#0000ff" stroke-width="1.4"/>
<polyline fill="none" stroke="#ff0000" stroke-width="1.5" stroke-linejoin="round" points="81.3,251.3 131.3,253.0 181.4,246.2 231.4,237.7 281.5,228.3 331.6,198.7 381.6,199.8 431.6,189.7"/>
<line x1="81.30" y1="248.80" x2="81.30" y2="253.80" stroke="#ff0000" stroke-width="1.4" />
<line x1="76.80" y1="248.80" x2="85.80" y2="248.80" stroke="#ff0000" stroke-width="1.4" />
<line x1="76.80" y1="253.80" x2="85.80" y2="253.80" stroke="#ff0000" stroke-width="1.4" />
<polygon points="81.30,246.80 77.38,253.55 85.22,253.55" fill="none" stroke="#ff0000" stroke-width="1.3" stroke-linejoin="miter"/>
<line x1="131.35" y1="249.00" x2="131.35" y2="257.00" stroke="#ff0000" stroke-width="1.4" />
<line x1="126.85" y1="249.00" x2="135.85" y2="249.00" stroke="#ff0000" stroke-width="1.4" />
<line x1="126.85" y1="257.00" x2="135.85" y2="257.00" stroke="#ff0000" stroke-width="1.4" />
<polygon points="131.35,248.50 127.43,255.25 135.26,255.25" fill="none" stroke="#ff0000" stroke-width="1.3" stroke-linejoin="miter"/>
<line x1="181.40" y1="243.70" x2="181.40" y2="248.70" stroke="#ff0000" stroke-width="1.4" />
<line x1="176.90" y1="243.70" x2="185.90" y2="243.70" stroke="#ff0000" stroke-width="1.4" />
<line x1="176.90" y1="248.70" x2="185.90" y2="248.70" stroke="#ff0000" stroke-width="1.4" />
<polygon points="181.40,241.70 177.48,248.45 185.31,248.45" fill="none" stroke="#ff0000" stroke-width="1.3" stroke-linejoin="miter"/>
<line x1="231.45" y1="235.20" x2="231.45" y2="240.20" stroke="#ff0000" stroke-width="1.4" />
<line x1="226.95" y1="235.20" x2="235.95" y2="235.20" stroke="#ff0000" stroke-width="1.4" />
<line x1="226.95" y1="240.20" x2="235.95" y2="240.20" stroke="#ff0000" stroke-width="1.4" />
<polygon points="231.45,233.20 227.53,239.95 235.36,239.95" fill="none" stroke="#ff0000" stroke-width="1.3" stroke-linejoin="miter"/>
<line x1="281.50" y1="225.80" x2="281.50" y2="230.80" stroke="#ff0000" stroke-width="1.4" />
<line x1="277.00" y1="225.80" x2="286.00" y2="225.80" stroke="#ff0000" stroke-width="1.4" />
<line x1="277.00" y1="230.80" x2="286.00" y2="230.80" stroke="#ff0000" stroke-width="1.4" />
<polygon points="281.50,223.80 277.58,230.55 285.42,230.55" fill="none" stroke="#ff0000" stroke-width="1.3" stroke-linejoin="miter"/>
<line x1="331.55" y1="190.30" x2="331.55" y2="207.10" stroke="#ff0000" stroke-width="1.4" />
<line x1="327.05" y1="190.30" x2="336.05" y2="190.30" stroke="#ff0000" stroke-width="1.4" />
<line x1="327.05" y1="207.10" x2="336.05" y2="207.10" stroke="#ff0000" stroke-width="1.4" />
<polygon points="331.55,194.20 327.63,200.95 335.47,200.95" fill="none" stroke="#ff0000" stroke-width="1.3" stroke-linejoin="miter"/>
<line x1="381.60" y1="193.00" x2="381.60" y2="206.60" stroke="#ff0000" stroke-width="1.4" />
<line x1="377.10" y1="193.00" x2="386.10" y2="193.00" stroke="#ff0000" stroke-width="1.4" />
<line x1="377.10" y1="206.60" x2="386.10" y2="206.60" stroke="#ff0000" stroke-width="1.4" />
<polygon points="381.60,195.30 377.68,202.05 385.51,202.05" fill="none" stroke="#ff0000" stroke-width="1.3" stroke-linejoin="miter"/>
<line x1="431.65" y1="169.30" x2="431.65" y2="210.10" stroke="#ff0000" stroke-width="1.4" />
<line x1="427.15" y1="169.30" x2="436.15" y2="169.30" stroke="#ff0000" stroke-width="1.4" />
<line x1="427.15" y1="210.10" x2="436.15" y2="210.10" stroke="#ff0000" stroke-width="1.4" />
<polygon points="431.65,185.20 427.73,191.95 435.56,191.95" fill="none" stroke="#ff0000" stroke-width="1.3" stroke-linejoin="miter"/>
</g>
<g clip-path="url(#cpc)">
<polyline fill="none" stroke="#0000ff" stroke-width="1.5" stroke-linejoin="round" points="74.5,364.4 124.5,346.5 174.6,335.5 224.7,358.0 274.7,380.1 324.8,392.8 374.9,399.6 424.9,401.3"/>
<line x1="74.45" y1="361.90" x2="74.45" y2="366.90" stroke="#0000ff" stroke-width="1.4" />
<line x1="69.95" y1="361.90" x2="78.95" y2="361.90" stroke="#0000ff" stroke-width="1.4" />
<line x1="69.95" y1="366.90" x2="78.95" y2="366.90" stroke="#0000ff" stroke-width="1.4" />
<rect x="71.10" y="361.05" width="6.7" height="6.7" fill="none" stroke="#0000ff" stroke-width="1.4"/>
<line x1="124.52" y1="341.50" x2="124.52" y2="351.50" stroke="#0000ff" stroke-width="1.4" />
<line x1="120.02" y1="341.50" x2="129.02" y2="341.50" stroke="#0000ff" stroke-width="1.4" />
<line x1="120.02" y1="351.50" x2="129.02" y2="351.50" stroke="#0000ff" stroke-width="1.4" />
<rect x="121.17" y="343.15" width="6.7" height="6.7" fill="none" stroke="#0000ff" stroke-width="1.4"/>
<line x1="174.59" y1="333.00" x2="174.59" y2="338.00" stroke="#0000ff" stroke-width="1.4" />
<line x1="170.09" y1="333.00" x2="179.09" y2="333.00" stroke="#0000ff" stroke-width="1.4" />
<line x1="170.09" y1="338.00" x2="179.09" y2="338.00" stroke="#0000ff" stroke-width="1.4" />
<rect x="171.24" y="332.15" width="6.7" height="6.7" fill="none" stroke="#0000ff" stroke-width="1.4"/>
<line x1="224.66" y1="355.00" x2="224.66" y2="361.00" stroke="#0000ff" stroke-width="1.4" />
<line x1="220.16" y1="355.00" x2="229.16" y2="355.00" stroke="#0000ff" stroke-width="1.4" />
<line x1="220.16" y1="361.00" x2="229.16" y2="361.00" stroke="#0000ff" stroke-width="1.4" />
<rect x="221.31" y="354.65" width="6.7" height="6.7" fill="none" stroke="#0000ff" stroke-width="1.4"/>
<line x1="274.73" y1="377.60" x2="274.73" y2="382.60" stroke="#0000ff" stroke-width="1.4" />
<line x1="270.23" y1="377.60" x2="279.23" y2="377.60" stroke="#0000ff" stroke-width="1.4" />
<line x1="270.23" y1="382.60" x2="279.23" y2="382.60" stroke="#0000ff" stroke-width="1.4" />
<rect x="271.38" y="376.75" width="6.7" height="6.7" fill="none" stroke="#0000ff" stroke-width="1.4"/>
<line x1="324.80" y1="390.30" x2="324.80" y2="395.30" stroke="#0000ff" stroke-width="1.4" />
<line x1="320.30" y1="390.30" x2="329.30" y2="390.30" stroke="#0000ff" stroke-width="1.4" />
<line x1="320.30" y1="395.30" x2="329.30" y2="395.30" stroke="#0000ff" stroke-width="1.4" />
<rect x="321.45" y="389.45" width="6.7" height="6.7" fill="none" stroke="#0000ff" stroke-width="1.4"/>
<line x1="374.87" y1="397.60" x2="374.87" y2="401.60" stroke="#0000ff" stroke-width="1.4" />
<line x1="370.37" y1="397.60" x2="379.37" y2="397.60" stroke="#0000ff" stroke-width="1.4" />
<line x1="370.37" y1="401.60" x2="379.37" y2="401.60" stroke="#0000ff" stroke-width="1.4" />
<rect x="371.52" y="396.25" width="6.7" height="6.7" fill="none" stroke="#0000ff" stroke-width="1.4"/>
<rect x="421.59" y="397.95" width="6.7" height="6.7" fill="none" stroke="#0000ff" stroke-width="1.4"/>
<polyline fill="none" stroke="#ff0000" stroke-width="1.5" stroke-linejoin="round" points="81.3,386.0 131.3,376.7 181.4,372.4 231.4,361.4 281.5,358.9 331.6,333.0 381.6,368.6 431.6,373.7"/>
<line x1="81.30" y1="382.00" x2="81.30" y2="390.00" stroke="#ff0000" stroke-width="1.4" />
<line x1="76.80" y1="382.00" x2="85.80" y2="382.00" stroke="#ff0000" stroke-width="1.4" />
<line x1="76.80" y1="390.00" x2="85.80" y2="390.00" stroke="#ff0000" stroke-width="1.4" />
<polygon points="81.30,381.50 77.38,388.25 85.22,388.25" fill="none" stroke="#ff0000" stroke-width="1.3" stroke-linejoin="miter"/>
<line x1="131.35" y1="371.00" x2="131.35" y2="382.40" stroke="#ff0000" stroke-width="1.4" />
<line x1="126.85" y1="371.00" x2="135.85" y2="371.00" stroke="#ff0000" stroke-width="1.4" />
<line x1="126.85" y1="382.40" x2="135.85" y2="382.40" stroke="#ff0000" stroke-width="1.4" />
<polygon points="131.35,372.20 127.43,378.95 135.26,378.95" fill="none" stroke="#ff0000" stroke-width="1.3" stroke-linejoin="miter"/>
<line x1="181.40" y1="369.40" x2="181.40" y2="375.40" stroke="#ff0000" stroke-width="1.4" />
<line x1="176.90" y1="369.40" x2="185.90" y2="369.40" stroke="#ff0000" stroke-width="1.4" />
<line x1="176.90" y1="375.40" x2="185.90" y2="375.40" stroke="#ff0000" stroke-width="1.4" />
<polygon points="181.40,367.90 177.48,374.65 185.31,374.65" fill="none" stroke="#ff0000" stroke-width="1.3" stroke-linejoin="miter"/>
<line x1="231.45" y1="356.40" x2="231.45" y2="366.40" stroke="#ff0000" stroke-width="1.4" />
<line x1="226.95" y1="356.40" x2="235.95" y2="356.40" stroke="#ff0000" stroke-width="1.4" />
<line x1="226.95" y1="366.40" x2="235.95" y2="366.40" stroke="#ff0000" stroke-width="1.4" />
<polygon points="231.45,356.90 227.53,363.65 235.36,363.65" fill="none" stroke="#ff0000" stroke-width="1.3" stroke-linejoin="miter"/>
<line x1="281.50" y1="355.40" x2="281.50" y2="362.40" stroke="#ff0000" stroke-width="1.4" />
<line x1="277.00" y1="355.40" x2="286.00" y2="355.40" stroke="#ff0000" stroke-width="1.4" />
<line x1="277.00" y1="362.40" x2="286.00" y2="362.40" stroke="#ff0000" stroke-width="1.4" />
<polygon points="281.50,354.40 277.58,361.15 285.42,361.15" fill="none" stroke="#ff0000" stroke-width="1.3" stroke-linejoin="miter"/>
<line x1="331.55" y1="321.10" x2="331.55" y2="344.90" stroke="#ff0000" stroke-width="1.4" />
<line x1="327.05" y1="321.10" x2="336.05" y2="321.10" stroke="#ff0000" stroke-width="1.4" />
<line x1="327.05" y1="344.90" x2="336.05" y2="344.90" stroke="#ff0000" stroke-width="1.4" />
<polygon points="331.55,328.50 327.63,335.25 335.47,335.25" fill="none" stroke="#ff0000" stroke-width="1.3" stroke-linejoin="miter"/>
<line x1="381.60" y1="361.40" x2="381.60" y2="375.80" stroke="#ff0000" stroke-width="1.4" />
<line x1="377.10" y1="361.40" x2="386.10" y2="361.40" stroke="#ff0000" stroke-width="1.4" />
<line x1="377.10" y1="375.80" x2="386.10" y2="375.80" stroke="#ff0000" stroke-width="1.4" />
<polygon points="381.60,364.10 377.68,370.85 385.51,370.85" fill="none" stroke="#ff0000" stroke-width="1.3" stroke-linejoin="miter"/>
<line x1="431.65" y1="357.70" x2="431.65" y2="389.70" stroke="#ff0000" stroke-width="1.4" />
<line x1="427.15" y1="357.70" x2="436.15" y2="357.70" stroke="#ff0000" stroke-width="1.4" />
<line x1="427.15" y1="389.70" x2="436.15" y2="389.70" stroke="#ff0000" stroke-width="1.4" />
<polygon points="431.65,369.20 427.73,375.95 435.56,375.95" fill="none" stroke="#ff0000" stroke-width="1.3" stroke-linejoin="miter"/>
</g>
<rect x="87.65" y="57.65" width="6.1" height="6.1" fill="none" stroke="#0000ff" stroke-width="1.1"/>
<polygon points="90.80,77.05 87.10,83.42 94.50,83.42" fill="none" stroke="#ff0000" stroke-width="1.1" stroke-linejoin="miter"/>
<rect x="84.2" y="94.9" width="13.4" height="12.8" fill="#acacd5"/>
<g opacity="0.99">
<text id="l1" transform="translate(110.44,65.7) scale(1.3138,1)" font-size="15.5" fill="#0000ff" color="#0000ff" stroke="#fff" stroke-width="0.06" font-family="Liberation Serif, serif">Full simulation</text>
<text id="l2" transform="translate(110.46,85.8) scale(1.2796,1)" font-size="15.5" fill="#ff0000" color="#ff0000" stroke="#fff" stroke-width="0.06" font-family="Liberation Serif, serif">No chameleon</text>
<text id="l3" transform="translate(109.78,105.3) scale(1.3187,1)" font-size="15.5" fill="#acacd5" color="#acacd5" stroke="#fff" stroke-width="0.06" font-family="Liberation Serif, serif">Spherical collapse</text>
<text id="ta" transform="translate(70.87,35.8) scale(1.3260,1)" font-size="15.5" fill="#111" color="#111" stroke="#fff" stroke-width="0.06" font-family="Liberation Serif, serif">(a)</text>
<text id="ua" transform="translate(101.36,35.8) scale(1.1912,1)" font-size="15.5" fill="#111" color="#111" stroke="#fff" stroke-width="0.06" font-family="Liberation Serif, serif">|f<tspan font-family="Liberation Sans, sans-serif" font-size="9.2" stroke="currentColor" stroke-width="0.14" dy="4.5">R0</tspan><tspan font-size="0.1" dy="-4.5">&#8203;</tspan>|=10<tspan font-family="Liberation Sans, sans-serif" font-size="9.2" stroke="currentColor" stroke-width="0.14" dy="-5.0">−4</tspan><tspan font-size="0.1" dy="5.0">&#8203;</tspan></text>
<text id="tb" transform="translate(70.91,167.9) scale(1.2567,1)" font-size="15.5" fill="#111" color="#111" stroke="#fff" stroke-width="0.06" font-family="Liberation Serif, serif">(b)</text>
<text id="ub" transform="translate(101.36,167.9) scale(1.1938,1)" font-size="15.5" fill="#111" color="#111" stroke="#fff" stroke-width="0.06" font-family="Liberation Serif, serif">|f<tspan font-family="Liberation Sans, sans-serif" font-size="9.2" stroke="currentColor" stroke-width="0.14" dy="4.5">R0</tspan><tspan font-size="0.1" dy="-4.5">&#8203;</tspan>|=10<tspan font-family="Liberation Sans, sans-serif" font-size="9.2" stroke="currentColor" stroke-width="0.14" dy="-5.0">−5</tspan><tspan font-size="0.1" dy="5.0">&#8203;</tspan></text>
<text id="tc" transform="translate(70.87,299.3) scale(1.3260,1)" font-size="15.5" fill="#111" color="#111" stroke="#fff" stroke-width="0.06" font-family="Liberation Serif, serif">(c)</text>
<text id="uc" transform="translate(101.36,299.3) scale(1.1938,1)" font-size="15.5" fill="#111" color="#111" stroke="#fff" stroke-width="0.06" font-family="Liberation Serif, serif">|f<tspan font-family="Liberation Sans, sans-serif" font-size="9.2" stroke="currentColor" stroke-width="0.14" dy="4.5">R0</tspan><tspan font-size="0.1" dy="-4.5">&#8203;</tspan>|=10<tspan font-family="Liberation Sans, sans-serif" font-size="9.2" stroke="currentColor" stroke-width="0.14" dy="-5.0">−6</tspan><tspan font-size="0.1" dy="5.0">&#8203;</tspan></text>
<text id="ya0" transform="translate(39.77,142.5) scale(1.3231,1)" font-size="15.5" fill="#111" color="#111" stroke="#fff" stroke-width="0.06" font-family="Liberation Serif, serif">0</text>
<text id="ya0_5" transform="translate(26.03,113.90000000000002) scale(1.2359,1)" font-size="15.5" fill="#111" color="#111" stroke="#fff" stroke-width="0.06" font-family="Liberation Serif, serif">0.5</text>
<text id="ya1" transform="translate(43.20,85.30000000000001) scale(0.8727,1)" font-size="15.5" fill="#111" color="#111" stroke="#fff" stroke-width="0.06" font-family="Liberation Serif, serif">1</text>
<text id="ya1_5" transform="translate(27.08,56.7) scale(1.1799,1)" font-size="15.5" fill="#111" color="#111" stroke="#fff" stroke-width="0.06" font-family="Liberation Serif, serif">1.5</text>
<text id="ya2" transform="translate(39.74,28.100000000000005) scale(1.3760,1)" font-size="15.5" fill="#111" color="#111" stroke="#fff" stroke-width="0.06" font-family="Liberation Serif, serif">2</text>
<text id="yb0" transform="translate(39.77,264.95) scale(1.3231,1)" font-size="15.5" fill="#111" color="#111" stroke="#fff" stroke-width="0.06" font-family="Liberation Serif, serif">0</text>
<text id="yb0_2" transform="translate(26.02,235.58999999999997) scale(1.2531,1)" font-size="15.5" fill="#111" color="#111" stroke="#fff" stroke-width="0.06" font-family="Liberation Serif, serif">0.2</text>
<text id="yb0_4" transform="translate(26.04,206.23) scale(1.2108,1)" font-size="15.5" fill="#111" color="#111" stroke="#fff" stroke-width="0.06" font-family="Liberation Serif, serif">0.4</text>
<text id="yb0_6" transform="translate(26.03,176.87) scale(1.2274,1)" font-size="15.5" fill="#111" color="#111" stroke="#fff" stroke-width="0.06" font-family="Liberation Serif, serif">0.6</text>
<text id="yc0" transform="translate(39.77,406.8) scale(1.3231,1)" font-size="15.5" fill="#111" color="#111" stroke="#fff" stroke-width="0.06" font-family="Liberation Serif, serif">0</text>
<text id="yc0_1" transform="translate(27.47,374.6) scale(1.1748,1)" font-size="15.5" fill="#111" color="#111" stroke="#fff" stroke-width="0.06" font-family="Liberation Serif, serif">0.1</text>
<text id="yc0_2" transform="translate(26.02,342.40000000000003) scale(1.2531,1)" font-size="15.5" fill="#111" color="#111" stroke="#fff" stroke-width="0.06" font-family="Liberation Serif, serif">0.2</text>
<text id="yc0_3" transform="translate(26.03,310.2) scale(1.2359,1)" font-size="15.5" fill="#111" color="#111" stroke="#fff" stroke-width="0.06" font-family="Liberation Serif, serif">0.3</text>
<text id="x12" transform="translate(45.15,440.3) scale(1.2000,1)" font-size="15.5" fill="#111" color="#111" stroke="#fff" stroke-width="0.06" font-family="Liberation Serif, serif">10</text>
<text id="s12" transform="translate(64.26,436.0) scale(1.0270,1)" font-size="15.5" fill="#111" color="#111" stroke="#fff" stroke-width="0.06" font-family="Liberation Serif, serif"><tspan font-family="Liberation Sans, sans-serif" font-size="9.2" stroke="currentColor" stroke-width="0.14">12</tspan></text>
<text id="x13" transform="translate(155.75,440.3) scale(1.2000,1)" font-size="15.5" fill="#111" color="#111" stroke="#fff" stroke-width="0.06" font-family="Liberation Serif, serif">10</text>
<text id="s13" transform="translate(174.86,436.0) scale(1.0270,1)" font-size="15.5" fill="#111" color="#111" stroke="#fff" stroke-width="0.06" font-family="Liberation Serif, serif"><tspan font-family="Liberation Sans, sans-serif" font-size="9.2" stroke="currentColor" stroke-width="0.14">13</tspan></text>
<text id="x14" transform="translate(266.35,440.3) scale(1.2000,1)" font-size="15.5" fill="#111" color="#111" stroke="#fff" stroke-width="0.06" font-family="Liberation Serif, serif">10</text>
<text id="s14" transform="translate(285.47,436.0) scale(1.0133,1)" font-size="15.5" fill="#111" color="#111" stroke="#fff" stroke-width="0.06" font-family="Liberation Serif, serif"><tspan font-family="Liberation Sans, sans-serif" font-size="9.2" stroke="currentColor" stroke-width="0.14">14</tspan></text>
<text id="x15" transform="translate(376.95,440.3) scale(1.2000,1)" font-size="15.5" fill="#111" color="#111" stroke="#fff" stroke-width="0.06" font-family="Liberation Serif, serif">10</text>
<text id="s15" transform="translate(396.06,436.0) scale(1.0270,1)" font-size="15.5" fill="#111" color="#111" stroke="#fff" stroke-width="0.06" font-family="Liberation Serif, serif"><tspan font-family="Liberation Sans, sans-serif" font-size="9.2" stroke="currentColor" stroke-width="0.14">15</tspan></text>
<text id="xlA" transform="translate(204.12,463.8) scale(0.7534,1)" font-size="15.5" fill="#111" color="#111" stroke="#fff" stroke-width="0.06" font-family="Liberation Serif, serif">M</text>
<text id="xlB" transform="translate(215.32,468.2) scale(1.1119,1)" font-size="15.5" fill="#111" color="#111" stroke="#fff" stroke-width="0.06" font-family="Liberation Serif, serif"><tspan font-family="Liberation Sans, sans-serif" font-size="9.2" stroke="currentColor" stroke-width="0.14">300</tspan></text>
<text id="xlC" transform="translate(239.98,463.8) scale(0.9094,1)" font-size="15.5" fill="#111" color="#111" stroke="#fff" stroke-width="0.06" font-family="Liberation Serif, serif">[M</text>
<text id="xlD" transform="translate(257.47,468.2) scale(1.1040,1)" font-size="15.5" fill="#111" color="#111" stroke="#fff" stroke-width="0.06" font-family="Liberation Serif, serif"><tspan font-family="Liberation Sans, sans-serif" font-size="9.2" stroke="currentColor" stroke-width="0.14">⊙</tspan></text>
<text id="xlE" transform="translate(266.60,463.8) scale(1.7043,1)" font-size="15.5" fill="#111" color="#111" stroke="#fff" stroke-width="0.06" font-family="Liberation Serif, serif"><tspan font-size="21" dy="2.6">/</tspan></text>
<text id="xlF" transform="translate(277.73,463.8) scale(1.3849,1)" font-size="15.5" fill="#111" color="#111" stroke="#fff" stroke-width="0.06" font-family="Liberation Serif, serif">h]</text>
<text id="yl" transform="translate(14.6,256.56) rotate(-90) scale(1.2201,1)" font-size="15.5" fill="#111" color="#111" stroke="#fff" stroke-width="0.06" font-family="Liberation Serif, serif">Δn<tspan font-family="Liberation Sans, sans-serif" font-size="9.2" stroke="currentColor" stroke-width="0.14" dy="4.5">ln M</tspan><tspan font-size="0.1" dy="-4.5">&#8203;</tspan><tspan font-size="21" dy="2.6">/</tspan><tspan font-size="0.1" dy="-2.6">&#8203;</tspan>n<tspan font-family="Liberation Sans, sans-serif" font-size="9.2" stroke="currentColor" stroke-width="0.14" dy="4.5">ln M</tspan><tspan font-size="0.1" dy="-4.5">&#8203;</tspan></text>
</g>
</svg></body></html>
